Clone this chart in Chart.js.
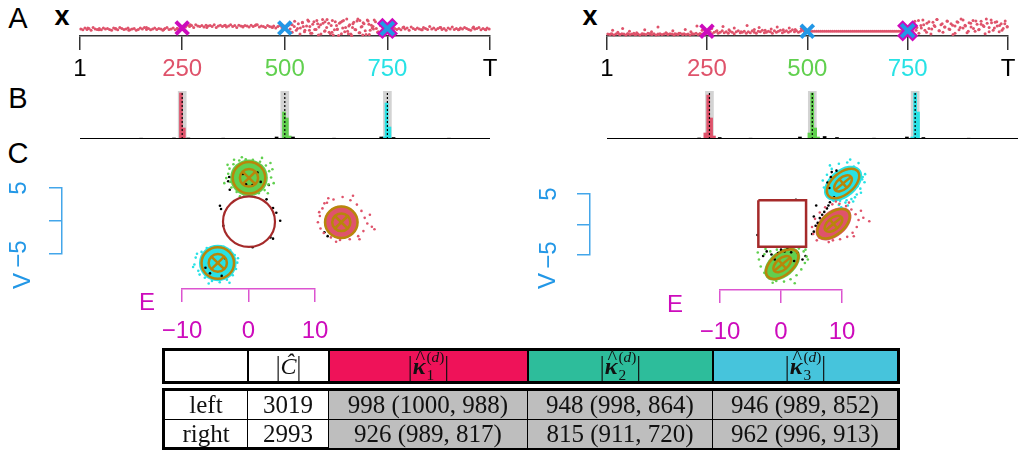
<!DOCTYPE html>
<html>
<head>
<meta charset="utf-8">
<script src="https://cdn.jsdelivr.net/npm/chart.js@4.4.1/dist/chart.umd.min.js"></script>
<style>
  body { margin: 0; width: 1025px; height: 455px; overflow: hidden; background: #fff; position: relative;
         font-family: "Liberation Sans", Arial, sans-serif; }
  canvas { position: absolute; }
  .lbl { position: absolute; transform: translate(-50%, -50%); white-space: nowrap; line-height: 1; }
  .panel { font-size: 29px; color: #000; }
  .var { font-size: 27px; font-weight: bold; }
  .tbl { position: absolute; left: 162px; width: 738px; border: 3px solid #000; box-sizing: border-box;
         font-family: "Liberation Serif", "DejaVu Serif", serif; font-size: 25px; color: #111; }
  .row { display: flex; height: 100%; }
  .row > div { display: flex; align-items: center; justify-content: center; box-sizing: border-box;
               border-left: 2px solid #000; height: 100%; }
  .row > div:first-child { border-left: none; }
  .body .row { height: 50%; }
  .body .row + .row { border-top: 1.5px solid #000; }
  .body .row > div { border-left-width: 1.5px; }
  .g { background: #bebebe; }
  .head { font-size: 24px; }
  .kap { position: relative; display: inline-block; font-weight: bold; font-style: italic; }
  .kap .hat { position: absolute; left: 0.14em; top: -0.3em; font-weight: normal; font-style: normal; font-size: 0.85em; }
  .ss { display: inline-block; vertical-align: -0.5em; font-size: 0.64em; line-height: 1.15; text-align: left; margin-left: 1px; }
  .ss span { display: block; }
  .bar { display: inline-block; transform: scaleY(1.15); }
</style>
</head>
<body>
<div class="lbl panel" style="left:18px;top:18px">A</div>
<div class="lbl panel" style="left:18px;top:98px">B</div>
<div class="lbl panel" style="left:18px;top:153px">C</div>
<div class="lbl var" style="left:62px;top:16px">x</div>
<div class="lbl var" style="left:590px;top:16px">x</div>

<canvas id="stripL" width="490" height="86" style="left:40px;top:0"></canvas>
<canvas id="stripR" width="460" height="86" style="left:567px;top:0"></canvas>
<canvas id="histL" width="490" height="60" style="left:40px;top:85px"></canvas>
<canvas id="histR" width="460" height="60" style="left:567px;top:85px"></canvas>

<canvas id="scatL" width="372" height="172" style="left:102px;top:135px"></canvas>
<canvas id="scatR" width="342" height="159" style="left:647px;top:144px"></canvas>
<canvas id="vAxisL" width="64" height="106" style="left:0;top:168px"></canvas>
<canvas id="vAxisR" width="62" height="101" style="left:530px;top:174px"></canvas>
<canvas id="eAxisL" width="220" height="70" style="left:140px;top:280px"></canvas>
<canvas id="eAxisR" width="210" height="71" style="left:680px;top:280px"></canvas>
<div class="lbl" style="left:22px;top:281px;font-size:24px;color:#2297E6;transform:translate(-50%,-50%) rotate(-90deg)">V</div>
<div class="lbl" style="left:547px;top:281px;font-size:24px;color:#2297E6;transform:translate(-50%,-50%) rotate(-90deg)">V</div>
<div class="lbl" style="left:147px;top:302px;font-size:24px;color:#CD0BBC">E</div>
<div class="lbl" style="left:675px;top:304px;font-size:24px;color:#CD0BBC">E</div>

<div class="tbl head" style="top:348px;height:36px">
  <div class="row">
    <div style="width:82px"></div>
    <div style="width:81px"><span class="bar">|</span><i>Ĉ</i><span class="bar">|</span></div>
    <div style="width:199px;background:#ef1259"><span class="bar">|</span><span class="kap">κ<span class="hat">^</span></span><span class="ss"><span>(<i>d</i>)</span><span>1</span></span><span class="bar">|</span></div>
    <div style="width:185px;background:#2dbd9b"><span class="bar">|</span><span class="kap">κ<span class="hat">^</span></span><span class="ss"><span>(<i>d</i>)</span><span>2</span></span><span class="bar">|</span></div>
    <div style="width:185px;background:#46c4dc"><span class="bar">|</span><span class="kap">κ<span class="hat">^</span></span><span class="ss"><span>(<i>d</i>)</span><span>3</span></span><span class="bar">|</span></div>
  </div>
</div>
<div class="tbl body" style="top:388px;height:62px">
  <div class="row" id="rowLeft"></div>
  <div class="row" id="rowRight"></div>
</div>

<script>
// colours (R palette)
const RED = '#DF536B', GREEN = '#61D04F', BLUE = '#2297E6', CYAN = '#28E2E5', MAGENTA = '#CD0BBC';
const GOLD = '#B8860B', BROWN = '#A52A2A';

// ---- panel A: observed series, height above axis, sampled every 5 steps
const leftBand = [
  15,13,17,14,16,12,18,15,14,16, 13,17,15,16,14,12,17,15,13,18, 16,14,15,17,13,15,16,12,14,17,
  15,18,14,16,13,15,17,14,16,15, 12,16,18,14,15,17,13,16,15,19,
  21,19,23,20,22,18,24,21,20,22, 19,23,21,22,20,24,18,21,23,20, 22,19,21,24,20,22,18,23,21,20,
  22,21,19,23,20,22,24,19,21,20, 18,22,20,19,21,17,20,22,18,21,
  18,22,15,24,20,12,26,17,29,9, 21,31,6,25,14,33,19,4,27,11,
  35,8,22,2,30,15,27,5,33,18, 10,24,1,29,13,36,7,20,26,3, 32,12,17,34,16,9,
  22,11,19,14,17,15,18,16,14,
  16,13,18,15,17,12,19,16,14,17, 15,13,18,16,14,20,15,17,13,16, 18,14,16,12,17,15,19,14,16,13,
  17,15,18,16,14,12,17,15,16,18, 13,16,14,17,15
];
const leftExtra = [
  [512,25],[518,8],[524,31],[531,16],[537,4],[543,28],[549,12],[556,34],[561,20],[566,6],[571,30],
  [576,14],[582,2],[587,24],[592,35],[597,10],[602,18],[607,27],[611,5],[616,33],[621,13],[626,22],
  [631,1],[636,29],[641,17],[646,9],[651,36],[656,21],[661,4],[666,26],[671,14],[676,32],[681,7],
  [686,19],[691,28],[696,11],[701,34],[706,3],[711,23],[716,15],[721,30],[726,8],[545,20],[580,26],
  [615,8],[640,31],[665,18],[690,2],[705,25],[560,12],[598,30],[628,14],[655,5],[683,33],[715,20],
  [20,17],[47,13],[88,16],[120,12],[163,18],[205,14],[238,16],[270,24],[310,18],[355,23],[398,19],
  [430,24],[470,18],[790,19],[835,13],[880,18],[925,14],[960,19],[990,13]
];
const rightBand = [
  4,3,5,2,4,6,3,5,4,2, 5,3,4,6,3,4,2,5,4,3, 6,4,3,5,2,4,5,3,4,6, 3,5,4,2,4,3,6,4,5,3, 4,2,5,4,6,3,5,4,3,5,
  7,9,5,8,10,6,8,11,7,9, 6,10,8,5,9,11,7,8,10,6, 9,7,11,8,6,10,9,12,7,8, 10,9,6,11,8,10,12,7,9,11,
  8,10,13,9,11,8,10,12,9,10,
  10,10,10,10,10,10,10,10,10,10, 10,10,10,10,10,10,10,10,10,10, 10,10,10,10,10,10,10,10,10,10,
  10,10,10,10,10,10,10,10,10,10, 10,10,10,10,10,10,10,10,10,10,
  14,25,9,31,18,6,22,34,12,27, 16,4,29,20,35,11,24,8,19,32, 15,26,3,21,30,13,36,17,23,7,
  28,19,33,10,25,14,31,22,5,27, 18,34,12,29,21,9,26,16,32,20
];
const rightExtra = [
  [15,12],[28,8],[40,16],[57,10],[75,7],[95,13],[112,9],[128,19],[148,7],[165,11],[180,6],[196,14],
  [210,9],[225,21],[238,12],[245,8],[262,16],[275,11],[290,20],[305,13],[318,17],[335,9],[350,22],
  [368,14],[380,18],[395,12],[410,15],[425,19],[440,13],[455,17],[470,14],[485,16],[495,12],
  [10,4],[33,3],[52,5],[70,3],[90,4],[108,5],[130,3],[152,4],[170,5],[190,3],[215,4],[232,5],
  [758,20],[764,28],[771,12],[777,33],[784,17],[790,24],[797,8],[803,30],[810,15],[816,22],[823,35],
  [829,11],[836,26],[842,19],[849,31],[855,14],[862,23],[868,6],[875,29],[881,18],[888,34],[894,21],
  [901,10],[907,27],[914,16],[920,32],[927,13],[933,25],[940,20],[946,36],[953,9],[959,28],[966,17],
  [972,30],[979,22],[985,12],[992,26],[998,19]
];
const bandTimes = leftBand.map((_, i) => 3 + 5 * i);
const changeTimes = [250, 500, 750];
const leftMarks = [17, 17, 16];
const rightMarks = [10, 10, 11];
const tickTimes = [1, 250, 500, 750, 1000];
const tickNames = ['1', '250', '500', '750', 'T'];
const tickColors = ['#000', RED, GREEN, CYAN, '#000'];

// ---- panel B: histogram of detected change points [t, height]
const histLeft = {
  red: [[247,46],[254,11]],
  green: [[498,27],[505,21],[512,3]],
  cyan: [[748,36],[755,12],[741,2]],
  black: [[150,0.8],[230,1],[265,1],[350,0.8],[480,2],[520,2],[620,0.8],[735,2],[765,1.5],[900,0.8]]
};
const histRight = {
  red: [[247,44],[254,21],[240,6],[261,3]],
  green: [[500,46],[507,11],[493,6],[514,2]],
  cyan: [[750,46],[757,27],[743,2]],
  black: [[225,1],[275,1.5],[350,0.8],[470,2],[530,2.5],[560,1.5],[650,0.8],[730,2],[770,1.5],[880,0.8]]
};
const bandHeight = 48;

// ---- panel C: (E, V) segments
const leftCenters = [[0, 6.85], [14.2, -0.2], [-4.8, -6.65]];
const leftCoreRadius = [2.9, 2.6, 2.9];
const leftRingOuter = [2.5, 2.5, 2.5];
const leftRingInner = [1.4, 1.4, 1.4];
const leftCircle = [0, -0.1, 4.0];
const leftGreenPts = [[-3.2,7.5],[-2.9,6.2],[-3.0,8.3],[-2.4,9.0],[-1.5,9.6],[-0.5,9.8],[0.6,9.7],[1.7,9.4],
  [2.6,8.8],[3.1,7.9],[3.4,6.9],[3.0,5.8],[2.4,4.9],[1.5,4.4],[0.4,4.1],[-0.8,4.2],[-1.9,4.6],[-2.7,5.3],
  [-3.5,6.8],[-3.3,8.9],[3.6,8.2],[-1.1,10.1],[2.0,10.0],[3.8,6.0],[-3.8,6.0],[0.9,3.8],[-2.3,9.7],
  [2.9,4.4],[-1.4,3.9],[3.3,9.2]];
const leftRedPts = [[10.9,0.8],[11.0,-1.2],[11.3,2.0],[12.0,2.9],[13.0,3.4],[14.4,3.8],[15.6,3.3],[16.6,2.6],
  [17.3,1.6],[17.8,0.5],[18.2,-0.4],[19.3,-1.3],[17.6,-1.6],[16.8,-2.4],[15.5,-2.9],[14.0,-3.0],[12.6,-2.6],
  [11.5,-1.9],[10.6,-0.2],[18.6,1.0],[12.2,3.6],[16.0,4.0],[17.0,-2.9],[11.6,2.8],[18.9,-0.9],[13.4,-3.3],
  [10.8,1.4]];
const leftCyanPts = [[-8.4,-6.9],[-8.2,-5.8],[-7.8,-7.9],[-7.3,-4.9],[-6.5,-4.3],[-5.2,-4.0],[-3.9,-4.1],
  [-2.9,-4.6],[-2.2,-5.4],[-1.8,-6.6],[-2.0,-7.6],[-2.5,-8.6],[-3.4,-9.3],[-4.5,-9.7],[-5.7,-9.5],
  [-6.8,-9.0],[-7.6,-8.5],[-8.6,-7.3],[-1.7,-5.9],[-3.0,-9.8],[-6.2,-9.9],[-8.0,-5.2]];
const leftBlackPts = [[-3.05,6.97],[-3.2,6.3],[-2.96,4.95],[-0.45,5.8],[0.55,5.7],[1.8,6.2],[3.05,5.7],
  [-0.95,7.47],[1.3,7.7],[-4.47,2.42],[-4.3,1.9],[2.7,3.43],[3.7,2.07],[4.2,1.3],[4.8,0.05],[3.3,-2.6],
  [3.7,-2.8],[0.55,-4.15],[-3.95,-0.76],[-6.7,-7.4],[-4.2,-8.7],[-6,-8.3],[-3.7,-5.9],[11.6,-1.8],[12.1,-2.4]];

const rightCenters = [[0, -7.0], [8.6, -0.05], [10.2, 6.9]];
const rightCoreAxes = [[3.5, 2.2], [3.5, 2.2], [3.7, 2.4]];
const rightRingOuter = [[3.2, 1.85], [3.2, 1.85], [3.2, 1.85]];
const rightRingInner = [[1.75, 1.0], [1.75, 1.0], [1.75, 1.0]];
const rightTilt = [40, 40, 40];
const rightSquare = [[-4,4],[4,4],[4,-4],[-4,-4],[-4,4]];
const rightGreenPts = [[-3.9,-6.2],[-3.6,-7.4],[-3.0,-8.5],[-2.2,-9.4],[-1.0,-9.9],[0.3,-10.0],[1.4,-9.6],
  [2.4,-8.9],[3.2,-7.9],[3.8,-6.8],[4.1,-5.7],[3.6,-4.8],[2.8,-4.3],[1.6,-4.4],[0.4,-4.6],[-0.9,-4.5],
  [-2.0,-4.8],[-3.0,-5.3],[-4.1,-5.0],[2.1,-10.3],[-1.6,-10.2],[4.3,-6.2],[-2.8,-4.4],[3.9,-4.5]];
const rightRedPts = [[5.2,-1.8],[5.0,-0.6],[5.5,0.8],[6.3,1.9],[7.2,2.8],[8.4,3.3],[9.6,3.4],[10.7,3.0],
  [11.6,2.4],[12.3,1.6],[12.8,0.6],[12.5,-0.6],[11.8,-1.6],[10.9,-2.3],[9.7,-2.7],[8.5,-2.9],[7.2,-2.6],
  [6.2,-2.4],[14.6,0.4],[13.2,2.2],[11.2,3.6],[5.8,-2.9],[12.0,-2.2],[13.6,1.0],[9.0,3.8],[7.8,-3.2]];
const rightCyanPts = [[7.0,6.2],[6.8,7.4],[7.5,8.4],[8.3,9.4],[9.5,10.3],[10.9,10.5],[12.0,9.8],[12.9,9.0],
  [13.5,8.0],[13.8,7.1],[13.1,6.0],[12.5,5.0],[11.6,4.2],[10.6,3.6],[9.5,3.2],[8.6,3.9],[7.8,4.8],
  [11.0,3.1],[12.2,4.5],[13.2,5.3],[9.2,4.6],[10.4,4.9],[8.0,10.0],[13.9,8.5],[11.4,11.0],[12.8,10.4],
  [7.3,5.4],[9.9,2.8],[10.8,4.0],[11.9,3.8],[9.7,3.9],[12.6,6.4],[13.4,7.6]];
const rightBlackPts = [[5.0,-1.8],[5.3,-1.4],[5.6,-0.4],[5.95,0.1],[6.3,0.93],[6.7,1.5],[7.05,2.0],[7.5,2.6],
  [7.75,3.1],[8.0,3.65],[5.7,3.1],[5.3,1.2],[8.15,8.0],[8.3,8.85],[7.6,7.05],[9.1,9.1],[7.9,6.1],[8.7,4.5],
  [-2.6,-4.8],[-1.8,-5.35],[-0.7,-5.1],[0.4,-4.8],[1.5,-4.97],[2.6,-5.1],[3.4,-6.2],[3.9,-5.6],[-3.2,-5.6],
  [-1.25,-6.2],[2.0,-6.45],[-0.2,-4.5],[0.9,-4.4],[2.3,4.1],[-4.15,-1.97]];

// ---- table
const tableRows = [
  ['left', '3019', '998 (1000, 988)', '948 (998, 864)', '946 (989, 852)'],
  ['right', '2993', '926 (989, 817)', '815 (911, 720)', '962 (996, 913)']
];
const colWidths = [82, 81, 199, 185, 185];

const base = {
  responsive: false, animation: false, devicePixelRatio: 1, events: [],
  plugins: { legend: { display: false }, tooltip: { enabled: false } }
};
const xy = (arr) => arr.map(p => ({ x: p[0], y: p[1] }));
const dots = (arr, color, r) => ({ data: xy(arr), backgroundColor: color, borderWidth: 0, pointRadius: r || 1.3, clip: false });
const minus = (v) => v < 0 ? '\u2212' + Math.abs(v) : String(v);
const noPad = (s) => { s.paddingLeft = 0; s.paddingRight = 0; s.paddingTop = 0; s.paddingBottom = 0; };

// panel A
function stripChart(id, band, extra, marks, padR) {
  new Chart(document.getElementById(id), {
    type: 'scatter',
    data: { datasets: [
      { ...dots(band.map((h, i) => [bandTimes[i], h]), RED, 1.5), order: 5 },
      { ...dots(extra, RED, 1.5), order: 5 },
      { data: [{ x: changeTimes[0], y: marks[0] }], pointStyle: 'crossRot', pointRadius: 9, borderWidth: 4, borderColor: MAGENTA, clip: false, order: 3 },
      { data: [{ x: changeTimes[1], y: marks[1] }], pointStyle: 'crossRot', pointRadius: 9, borderWidth: 4, borderColor: BLUE, clip: false, order: 3 },
      { data: [{ x: changeTimes[2], y: marks[2] }], pointStyle: 'crossRot', pointRadius: 11, borderWidth: 8, borderColor: MAGENTA, clip: false, order: 2 },
      { data: [{ x: changeTimes[2], y: marks[2] }], pointStyle: 'crossRot', pointRadius: 9, borderWidth: 4, borderColor: BLUE, clip: false, order: 1 }
    ] },
    options: { ...base,
      layout: { padding: { left: 40, right: padR, top: 0, bottom: 0 } },
      scales: {
        x: { type: 'linear', min: 1, max: 1000,
          afterBuildTicks: (s) => { s.ticks = tickTimes.map(v => ({ value: v })); },
          afterFit: (s) => { s.height = 50; noPad(s); },
          ticks: { maxRotation: 0, padding: 5, font: { size: 24, family: 'Liberation Sans' },
            color: (c) => tickColors[c.index], callback: (v, i) => tickNames[i] },
          grid: { drawOnChartArea: false, tickLength: 14, color: '#333', lineWidth: 1.5 },
          border: { color: '#333', width: 1.5 } },
        y: { display: false, min: 0, max: 36 }
      } }
  });
}
stripChart('stripL', leftBand, leftExtra, leftMarks, 40);
stripChart('stripR', rightBand, rightExtra, rightMarks, 9);

// panel B
function histChart(id, h, padR) {
  const bar = (arr, color, w, order) => ({ type: 'bar', data: xy(arr), backgroundColor: color, barThickness: w, grouped: false, order });
  const dotted = changeTimes.map(t => ({ type: 'line', data: [{ x: t, y: 0 }, { x: t, y: bandHeight }],
    borderColor: '#000', borderWidth: 1.2, borderDash: [2, 2], pointRadius: 0, order: 1 }));
  new Chart(document.getElementById(id), {
    type: 'bar',
    data: { datasets: [
      bar(changeTimes.map(t => [t, bandHeight]), '#d3d3d3', 8, 6),
      bar(h.red, RED, 3, 4), bar(h.green, GREEN, 3, 4), bar(h.cyan, CYAN, 3, 4), bar(h.black, '#000', 3, 3),
      ...dotted,
      { type: 'line', data: [{ x: 1, y: 0 }, { x: 1000, y: 0 }], borderColor: '#000', borderWidth: 2, pointRadius: 0, order: 0 }
    ] },
    options: { ...base,
      layout: { padding: { left: 40, right: padR, top: 6, bottom: 6 } },
      scales: {
        x: { type: 'linear', display: false, min: 1, max: 1000, offset: false, grid: { offset: false } },
        y: { display: false, min: 0, max: bandHeight }
      } }
  });
}
histChart('histL', histLeft, 40);
histChart('histR', histRight, 9);

// panel C: filled cores, rings with crosses, boundary circle
const clusterShapes = {
  id: 'clusterShapes',
  beforeDatasetsDraw(chart, args, o) {
    const { ctx, scales: { x, y } } = chart;
    const sx = Math.abs(x.getPixelForValue(1) - x.getPixelForValue(0));
    const sy = Math.abs(y.getPixelForValue(1) - y.getPixelForValue(0));
    ctx.save();
    o.centers.forEach((c, i) => {
      ctx.fillStyle = o.colors[i];
      ctx.beginPath();
      ctx.ellipse(x.getPixelForValue(c[0]), y.getPixelForValue(c[1]), o.core[i][0] * sx, o.core[i][1] * sy,
        -o.tilt[i] * Math.PI / 180, 0, 2 * Math.PI);
      ctx.fill();
    });
    ctx.restore();
  },
  afterDatasetsDraw(chart, args, o) {
    const { ctx, scales: { x, y } } = chart;
    const sx = Math.abs(x.getPixelForValue(1) - x.getPixelForValue(0));
    const sy = Math.abs(y.getPixelForValue(1) - y.getPixelForValue(0));
    ctx.save();
    if (o.circle) {
      ctx.strokeStyle = BROWN; ctx.lineWidth = 2.2;
      ctx.beginPath();
      ctx.ellipse(x.getPixelForValue(o.circle[0]), y.getPixelForValue(o.circle[1]), o.circle[2] * sx, o.circle[2] * sy, 0, 0, 2 * Math.PI);
      ctx.stroke();
    }
    ctx.strokeStyle = GOLD; ctx.lineWidth = 2.5;
    o.centers.forEach((c, i) => {
      const cx = x.getPixelForValue(c[0]), cy = y.getPixelForValue(c[1]);
      const th = o.tilt[i] * Math.PI / 180;
      [o.outer[i], o.inner[i]].forEach(r => {
        ctx.beginPath();
        ctx.ellipse(cx, cy, r[0] * sx, r[1] * sy, -th, 0, 2 * Math.PI);
        ctx.stroke();
      });
      const [a, b] = o.inner[i];
      [o.crossAt, o.crossAt + 90].forEach(deg => {
        const t = deg * Math.PI / 180;
        const dx = a * Math.cos(t), dy = b * Math.sin(t);
        const ex = (dx * Math.cos(th) - dy * Math.sin(th)) * sx;
        const ey = (dx * Math.sin(th) + dy * Math.cos(th)) * sy;
        ctx.beginPath();
        ctx.moveTo(cx - ex, cy + ey);
        ctx.lineTo(cx + ex, cy - ey);
        ctx.stroke();
      });
    });
    ctx.restore();
  }
};

function segChart(id, sets, shapes, extra) {
  new Chart(document.getElementById(id), {
    type: 'scatter',
    data: { datasets: [...sets, ...extra] },
    options: { ...base,
      layout: { padding: 0 },
      plugins: { ...base.plugins, clusterShapes: shapes },
      scales: {
        x: { display: false, min: -22, max: 34 },
        y: { display: false, min: -13, max: 13 }
      } },
    plugins: [clusterShapes]
  });
}
segChart('scatL',
  [dots(leftGreenPts, GREEN), dots(leftRedPts, RED), dots(leftCyanPts, CYAN), dots(leftBlackPts, '#000')],
  { centers: leftCenters, colors: [GREEN, RED, CYAN],
    core: leftCoreRadius.map(r => [r, r]), outer: leftRingOuter.map(r => [r, r]), inner: leftRingInner.map(r => [r, r]),
    tilt: [0, 0, 0], crossAt: 45, circle: leftCircle }, []);
segChart('scatR',
  [dots(rightGreenPts, GREEN), dots(rightRedPts, RED), dots(rightCyanPts, CYAN), dots(rightBlackPts, '#000')],
  { centers: rightCenters, colors: [GREEN, RED, CYAN],
    core: rightCoreAxes, outer: rightRingOuter, inner: rightRingInner, tilt: rightTilt, crossAt: 0, circle: null },
  [{ type: 'line', data: xy(rightSquare), borderColor: BROWN, borderWidth: 2.5, pointRadius: 0, fill: false, order: -1 }]);

// axes of panel C
function vAxis(id, w, pad) {
  new Chart(document.getElementById(id), {
    type: 'scatter', data: { datasets: [] },
    options: { ...base,
      layout: { padding: { left: 0, right: 1, top: 20, bottom: 20 } },
      scales: {
        x: { display: false },
        y: { min: -5, max: 5,
          afterBuildTicks: (s) => { s.ticks = [-5, 0, 5].map(v => ({ value: v })); },
          afterFit: (s) => { s.width = w; noPad(s); },
          ticks: { minRotation: 90, maxRotation: 90, crossAlign: 'center', padding: pad, color: BLUE,
            font: { size: 24, family: 'Liberation Sans' }, callback: (v) => v === 0 ? '' : minus(v) },
          grid: { drawOnChartArea: false, tickLength: 13, color: 'rgba(34,151,230,0.85)', lineWidth: 1.5 },
          border: { color: 'rgba(34,151,230,0.85)', width: 1.5 } }
      } }
  });
}
function eAxis(id, padL, padR, h, pad) {
  new Chart(document.getElementById(id), {
    type: 'scatter', data: { datasets: [] },
    options: { ...base,
      layout: { padding: { left: padL, right: padR, top: 0, bottom: 0 } },
      scales: {
        y: { display: false },
        x: { min: -10, max: 10,
          afterBuildTicks: (s) => { s.ticks = [-10, 0, 10].map(v => ({ value: v })); },
          afterFit: (s) => { s.height = h; noPad(s); },
          ticks: { maxRotation: 0, padding: pad, color: MAGENTA, font: { size: 24, family: 'Liberation Sans' }, callback: minus },
          grid: { drawOnChartArea: false, tickLength: 13, color: 'rgba(205,11,188,0.7)', lineWidth: 1.5 },
          border: { color: 'rgba(205,11,188,0.7)', width: 1.5 } }
      } }
  });
}
vAxis('vAxisL', 62, 16);
vAxis('vAxisR', 60, 14);
eAxis('eAxisL', 42, 45, 61, 15);
eAxis('eAxisR', 40, 48, 61, 15);

// table body
['rowLeft', 'rowRight'].forEach((id, r) => {
  const row = document.getElementById(id);
  tableRows[r].forEach((txt, c) => {
    const cell = document.createElement('div');
    cell.style.width = colWidths[c] + 'px';
    if (c >= 2) cell.className = 'g';
    cell.textContent = txt;
    row.appendChild(cell);
  });
});
</script>
</body>
</html>
